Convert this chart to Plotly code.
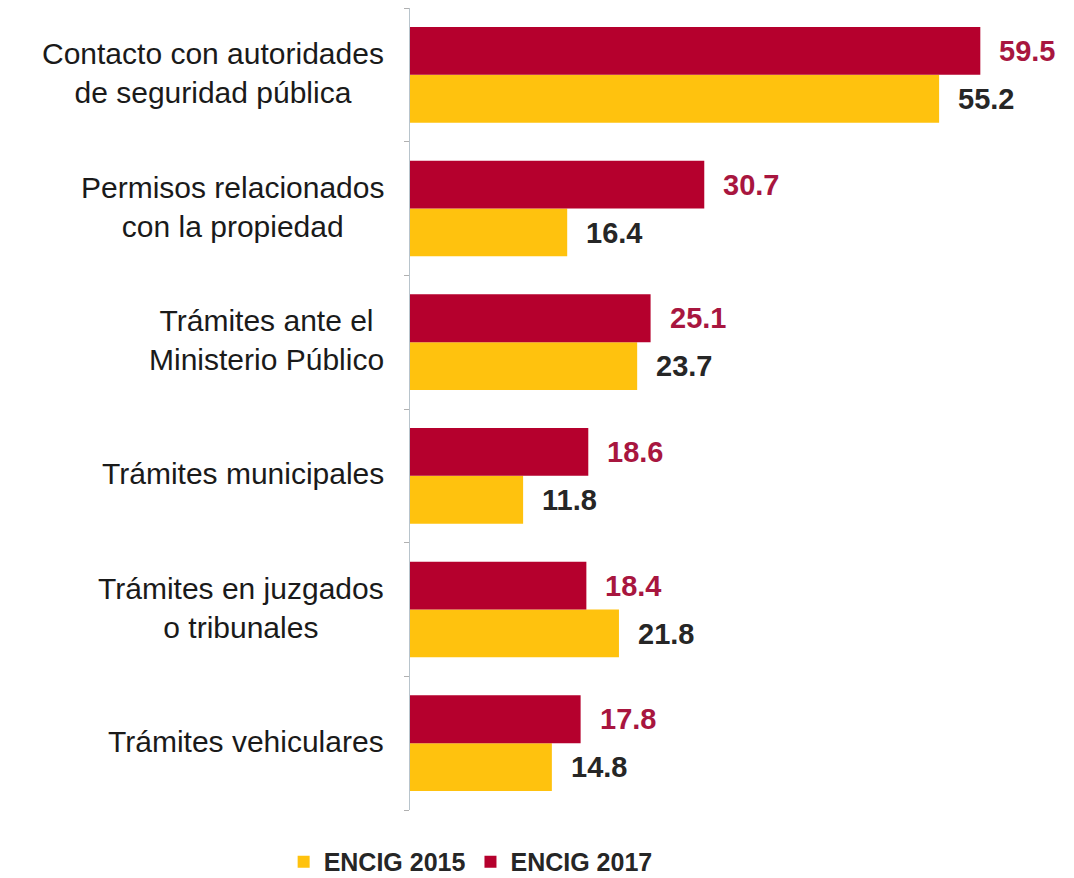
import plotly.graph_objects as go

categories = [
    "Contacto con autoridades<br>de seguridad pública",
    "Permisos relacionados<br>con la propiedad",
    "Trámites ante el<br>Ministerio Público",
    "Trámites municipales",
    "Trámites en juzgados<br>o tribunales",
    "Trámites vehiculares",
]
encig_2015 = [55.2, 16.4, 23.7, 11.8, 21.8, 14.8]
encig_2017 = [59.5, 30.7, 25.1, 18.6, 18.4, 17.8]
series_names = ["ENCIG 2015", "ENCIG 2017"]

RED = "#B5002D"
YELLOW = "#FFC20E"
RED_TXT = "#A8163F"
DARK_TXT = "#262626"
FONT = "Liberation Sans, Arial, sans-serif"

fig = go.Figure()
fig.add_trace(go.Bar(name=f"<b>{series_names[0]}</b>", y=categories, x=encig_2015, orientation="h",
                     marker=dict(color=YELLOW, line=dict(width=0))))
fig.add_trace(go.Bar(name=f"<b>{series_names[1]}</b>", y=categories, x=encig_2017, orientation="h",
                     marker=dict(color=RED, line=dict(width=0))))

annotations = []
for cat, v15, v17 in zip(categories, encig_2015, encig_2017):
    annotations.append(dict(x=v17, y=cat, xref="x", yref="y", text=f"<b>{v17}</b>",
                            showarrow=False, xanchor="left", yanchor="middle",
                            xshift=17, yshift=24,
                            font=dict(family=FONT, size=29, color=RED_TXT)))
    annotations.append(dict(x=v15, y=cat, xref="x", yref="y", text=f"<b>{v15}</b>",
                            showarrow=False, xanchor="left", yanchor="middle",
                            xshift=17, yshift=-24,
                            font=dict(family=FONT, size=29, color=DARK_TXT)))
    annotations.append(dict(x=0, y=cat, xref="paper", yref="y", text=cat,
                            showarrow=False, xanchor="right", yanchor="middle",
                            align="center", xshift=-24, yshift=2,
                            font=dict(family=FONT, size=30, color="#1a1a1a")))

fig.update_layout(
    width=1066, height=870,
    margin=dict(l=402, r=40, t=0, b=68, autoexpand=False),
    paper_bgcolor="white", plot_bgcolor="white",
    barmode="group", bargap=0.284, bargroupgap=0,
    annotations=annotations,
    showlegend=True,
    legend=dict(orientation="h", xref="container", yref="container",
                x=0.434, y=0.0184, xanchor="center", yanchor="middle",
                font=dict(family=FONT, size=25, color=DARK_TXT),
                itemwidth=30, tracegroupgap=0, bgcolor="rgba(0,0,0,0)"),
    font=dict(family=FONT),
)
fig.update_xaxes(range=[0, 65.1], visible=False, showgrid=False, zeroline=False)
fig.update_yaxes(categoryorder="array", categoryarray=categories[::-1],
                 showticklabels=False, showgrid=False, zeroline=False,
                 showline=True, linecolor="#b8c4cc", linewidth=1,
                 ticks="outside", tickson="boundaries", ticklen=5, tickcolor="#b0b0b0")

fig.write_html("out.html")
